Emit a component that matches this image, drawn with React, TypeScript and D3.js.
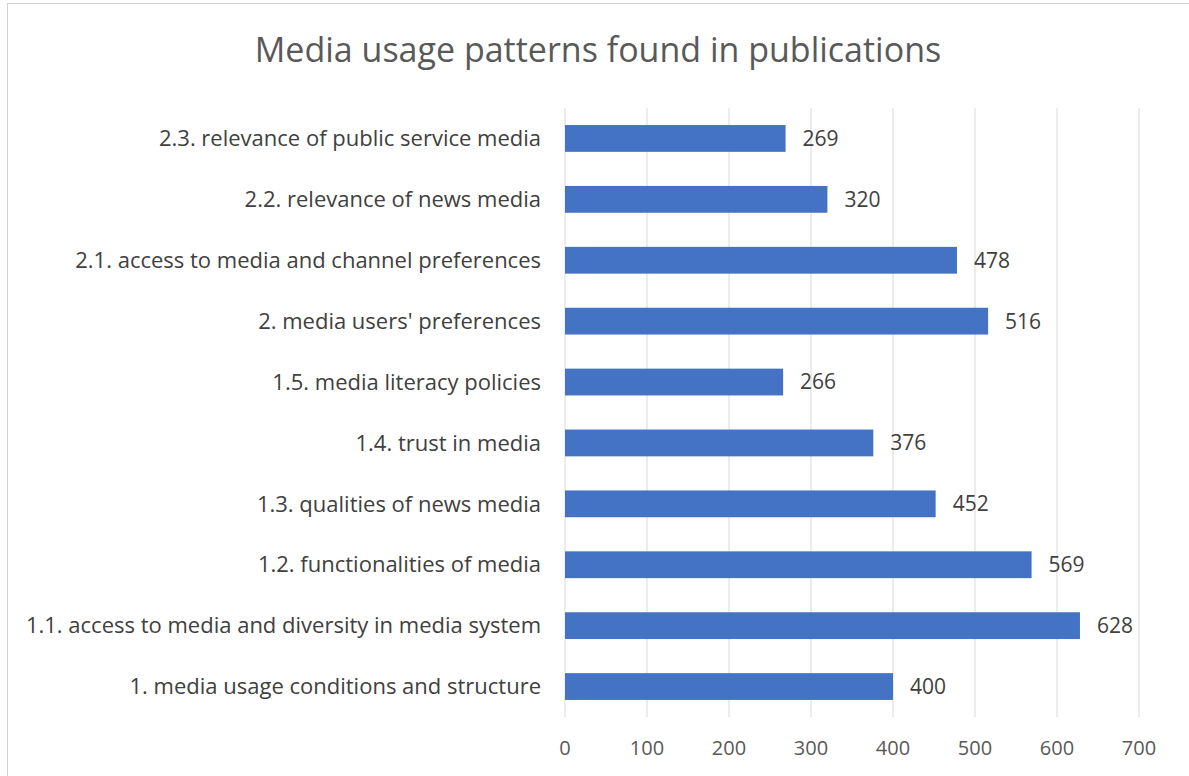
import React from "react";
import * as d3 from "d3";

const categories = [
  "2.3. relevance of public service media",
  "2.2. relevance of news media",
  "2.1. access to media and channel preferences",
  "2. media users' preferences",
  "1.5. media literacy policies",
  "1.4. trust in media",
  "1.3. qualities of news media",
  "1.2. functionalities of media",
  "1.1. access to media and diversity in media system",
  "1. media usage conditions and structure",
];
const values = [269, 320, 478, 516, 266, 376, 452, 569, 628, 400];
const xTicks = [0, 100, 200, 300, 400, 500, 600, 700];
const title = "Media usage patterns found in publications";

export default function App() {
  const W = 1189, H = 776;
  const x = d3.scaleLinear().domain([0, 700]).range([565, 1139]);
  const y = d3.scaleBand().domain(categories).range([108, 717]).paddingInner(0.56).paddingOuter(0.28);
  const font = "'Open Sans', sans-serif";
  return (
    <svg width={W} height={H} style={{ position: "absolute", left: 0, top: 0, background: "#fff" }}>
      <rect x={7.5} y={3.5} width={1200} height={800} fill="#fff" stroke="#d0d0d0" />
      <text x={598} y={62} textAnchor="middle" fontFamily={font} fontSize={34} fill="#595959">{title}</text>
      {xTicks.map((t) => (
        <g key={t}>
          <line x1={x(t)} x2={x(t)} y1={108} y2={717} stroke="#d9d9d9" strokeWidth={1} />
          <text x={x(t)} y={748} dy="0.35em" textAnchor="middle" fontFamily={font} fontSize={20} fill="#595959">{t}</text>
        </g>
      ))}
      {categories.map((c, i) => {
        const yy = y(c)!;
        const bw = y.bandwidth();
        return (
          <g key={c}>
            <rect x={x(0)} y={yy} width={x(values[i]) - x(0)} height={bw} fill="#4472C4" />
            <text x={541} y={yy + bw / 2} dy="0.35em" textAnchor="end" fontFamily={font} fontSize={22} fill="#404040">{c}</text>
            <text x={x(values[i]) + 17} y={yy + bw / 2} dy="0.35em" fontFamily={font} fontSize={21} fill="#404040">{values[i]}</text>
          </g>
        );
      })}
    </svg>
  );
}
